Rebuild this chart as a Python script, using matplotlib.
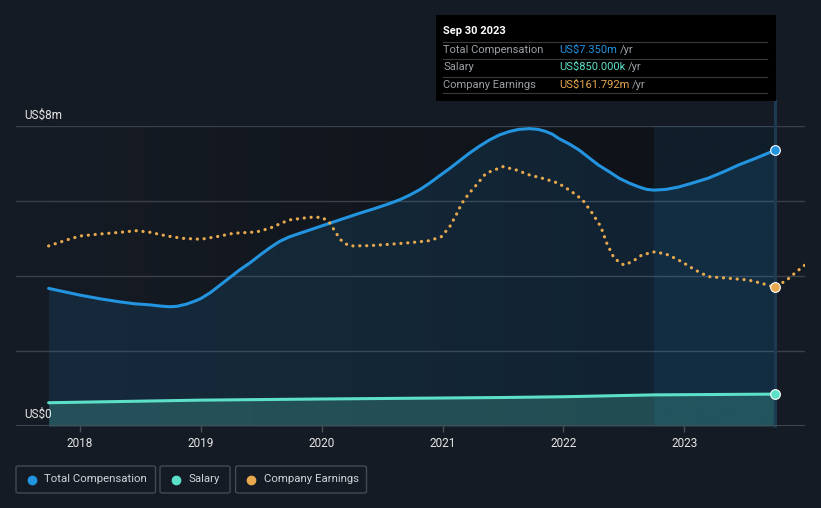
import numpy as np
import matplotlib
matplotlib.use("Agg")
import matplotlib.pyplot as plt
from matplotlib.patches import FancyBboxPatch, Rectangle
from matplotlib.colors import to_rgb

plt.rcParams['font.family'] = ['Roboto', 'DejaVu Sans']

# --- data (US$ m) ---
comp_years = [2017.74, 2018.0, 2018.17, 2018.33, 2018.45, 2018.58, 2018.66, 2018.74, 2018.80,
              2018.88, 2018.95, 2019.0, 2019.08, 2019.16, 2019.24, 2019.32, 2019.41, 2019.49,
              2019.57, 2019.65, 2019.73, 2019.82, 2019.94, 2020.06, 2020.18, 2020.31, 2020.44,
              2020.56, 2020.65, 2020.73, 2020.81, 2020.89, 2020.97, 2021.06, 2021.14, 2021.22,
              2021.30, 2021.39, 2021.47, 2021.55, 2021.63, 2021.72, 2021.79, 2021.85, 2021.91,
              2021.96, 2022.05, 2022.13, 2022.21, 2022.29, 2022.38, 2022.46, 2022.55, 2022.63,
              2022.69, 2022.75, 2022.85, 2022.95, 2023.07, 2023.20, 2023.32, 2023.45, 2023.60,
              2023.75]
comp_vals = [3.67, 3.49, 3.39, 3.31, 3.26, 3.23, 3.20, 3.18, 3.19,
             3.25, 3.33, 3.40, 3.56, 3.76, 3.96, 4.16, 4.36, 4.56,
             4.75, 4.92, 5.04, 5.14, 5.27, 5.40, 5.53, 5.67, 5.80,
             5.93, 6.04, 6.16, 6.30, 6.47, 6.66, 6.87, 7.07, 7.27,
             7.45, 7.63, 7.76, 7.85, 7.91, 7.93, 7.91, 7.86, 7.78,
             7.67, 7.52, 7.36, 7.16, 6.96, 6.78, 6.61, 6.47, 6.37,
             6.31, 6.29, 6.31, 6.37, 6.48, 6.61, 6.77, 6.96, 7.15,
             7.35]

salary_years = [2017.74, 2019.0, 2020.0, 2021.5, 2022.0, 2022.75, 2023.75]
salary_vals = [0.62, 0.69, 0.72, 0.76, 0.78, 0.83, 0.85]

earn_years = [2017.74, 2017.89, 2018.0, 2018.17, 2018.33, 2018.47, 2018.58, 2018.72, 2018.85,
              2019.0, 2019.13, 2019.27, 2019.46, 2019.57, 2019.65, 2019.73, 2019.90, 2020.0,
              2020.06, 2020.12, 2020.17, 2020.23, 2020.39, 2020.56, 2020.73, 2020.89, 2020.99,
              2021.06, 2021.12, 2021.16, 2021.22, 2021.28, 2021.36, 2021.50, 2021.61, 2021.72,
              2021.85, 2021.96, 2022.07, 2022.16, 2022.24, 2022.31, 2022.36, 2022.42, 2022.50,
              2022.57, 2022.65, 2022.76, 2022.87, 2022.98, 2023.09, 2023.20, 2023.37, 2023.53,
              2023.64, 2023.75, 2023.85, 2023.93, 2024.0]
earn_vals = [210.0, 217.0, 221.6, 224.0, 225.9, 227.8, 225.9, 221.6, 218.9,
             217.8, 220.8, 224.8, 226.3, 230.6, 235.6, 240.3, 243.4, 243.4,
             238.3, 224.8, 215.0, 210.0, 210.3, 211.9, 213.8, 216.1, 220.8,
             232.5, 248.1, 259.8, 271.4, 281.1, 294.8, 302.5, 298.6, 292.8,
             288.1, 283.1, 273.3, 263.6, 248.1, 232.5, 213.1, 195.6, 187.8,
             191.6, 199.5, 203.3, 199.5, 191.6, 182.0, 174.2, 172.3, 170.3,
             166.5, 161.792, 170.3, 180.0, 187.8]

year_ticks = [2018, 2019, 2020, 2021, 2022, 2023]

BG = '#151b24'
BLUE = '#2394df'
TEAL = '#5ce0c8'
ORANGE = '#e8a94e'
GRID = '#3a3f48'

fig = plt.figure(figsize=(8.21, 5.08), dpi=100, facecolor=BG)
ax = fig.add_axes([16 / 821, 1 - 426 / 508, 789 / 821, 300 / 508])
ax.set_facecolor(BG)
ax.set_xlim(2017.47, 2024.0)
ax.set_ylim(0, 8)

# darkening gradient behind the data range
c0 = np.array(to_rgb(BG))
c1 = np.array(to_rgb('#0f1319'))
xs = np.linspace(2017.74, 2023.75, 300)
t = np.clip((xs - 2017.74) / (2022.75 - 2017.74), 0, 1)[None, :, None]
grad = c0 * (1 - t) + c1 * t
ax.imshow(grad, extent=[2017.74, 2023.75, 0, 8], aspect='auto', zorder=0.5,
          interpolation='bilinear')

# gridlines
for v in [2, 4, 6, 8]:
    ax.axhline(v, color=GRID, lw=1.0, zorder=1)
ax.axhline(0, color='#4a4f57', lw=1.2, zorder=6)

# highlight of last year
ax.axvspan(2022.75, 2023.75, color=BLUE, alpha=0.09, lw=0, zorder=1.5)

ax.fill_between(comp_years, comp_vals, 0, color=BLUE, alpha=0.13, lw=0, zorder=2)
ax.fill_between(salary_years, salary_vals, 0, color=TEAL, alpha=0.22, lw=0, zorder=2.5)
ax.plot(comp_years, comp_vals, color=BLUE, lw=2.2, zorder=4, solid_capstyle='round',
        solid_joinstyle='round')
ax.plot(salary_years, salary_vals, color=TEAL, lw=2.2, zorder=4, solid_capstyle='round')

# vertical hover line
ax.plot([2023.75, 2023.75], [0, 8.67], color='#1d3a52', lw=2.2, zorder=3, clip_on=False)

ax2 = ax.twinx()
ax2.set_ylim(0, 349.9)
ax2.axis('off')
ax2.plot(earn_years, earn_vals, color=ORANGE, lw=2.3, linestyle=(0, (0.05, 2.1)),
         dash_capstyle='round', zorder=4)

ax2.plot(2023.75, earn_vals[earn_years.index(2023.75)], 'o', ms=7, color=ORANGE,
         mec='white', mew=0.8, zorder=7)
ax.plot(comp_years[-1], comp_vals[-1], 'o', ms=7, color=BLUE, mec='white', mew=0.8, zorder=7)
ax.plot(salary_years[-1], salary_vals[-1], 'o', ms=7, color=TEAL, mec='white', mew=0.8, zorder=7)

for s in ax.spines.values():
    s.set_visible(False)
ax.set_yticks([])
ax.set_xticks(year_ticks)
ax.set_xticklabels([str(y) for y in year_ticks])
ax.tick_params(axis='x', colors='#4a4f57', length=4, width=1, labelcolor='#e6e6e6',
               labelsize=8.5, pad=4)

fig.text(24 / 821, 1 - 115 / 508, 'US$8m', color='#e6e6e6', fontsize=8.5, va='center')
fig.text(24 / 821, 1 - 414 / 508, 'US$0', color='#e6e6e6', fontsize=8.5, va='center')

# tooltip
W, H = 821, 508
fig.patches.append(Rectangle((436 / W, 1 - 101 / H), 340 / W, 86 / H, transform=fig.transFigure,
                             facecolor='black', edgecolor='none', zorder=10))
fig.text(443 / W, 1 - 31 / H, 'Sep 30 2023', color='white', fontsize=8, fontweight='bold',
         va='center', zorder=11)
for yy in [41.7, 59, 76.7, 93.3]:
    fig.add_artist(plt.Line2D([443 / W, 767 / W], [1 - yy / H] * 2, color='#3a3a3a', lw=0.8,
                              transform=fig.transFigure, zorder=11))
rows = [('Total Compensation', 'US$7.350m', BLUE, 50),
        ('Salary', 'US$850.000k', TEAL, 67),
        ('Company Earnings', 'US$161.792m', ORANGE, 85)]
for lab, val, col, yy in rows:
    fig.text(443 / W, 1 - yy / H, lab, color='#9aa0a6', fontsize=8, va='center', zorder=11)
    t1 = fig.text(559 / W, 1 - yy / H, val, color=col, fontsize=8, va='center', zorder=11)
    fig.canvas.draw()
    bb = t1.get_window_extent()
    fig.text(bb.x1 / W + 3 / W, 1 - yy / H, '/yr', color='#9aa0a6', fontsize=8, va='center',
             zorder=11)

# legend boxes
legend = [('Total Compensation', BLUE, 16, 155.5), ('Salary', TEAL, 160, 230),
          ('Company Earnings', ORANGE, 235.6, 366.5)]
for lab, col, x0, x1 in legend:
    fig.patches.append(FancyBboxPatch((x0 / W, 1 - 493 / H), (x1 - x0) / W, 27 / H,
                                      boxstyle='round,pad=0,rounding_size=0.003',
                                      transform=fig.transFigure, facecolor='none',
                                      edgecolor='#444a53', lw=1))
    fig.add_artist(plt.Line2D([(x0 + 15.5) / W], [1 - 479.5 / H], marker='o', ms=6, color=col,
                              transform=fig.transFigure))
    fig.text((x0 + 28) / W, 1 - 479.5 / H, lab, color='#d0d3d8', fontsize=8.2, va='center')

fig.savefig('out.png', dpi=100, facecolor=BG)
